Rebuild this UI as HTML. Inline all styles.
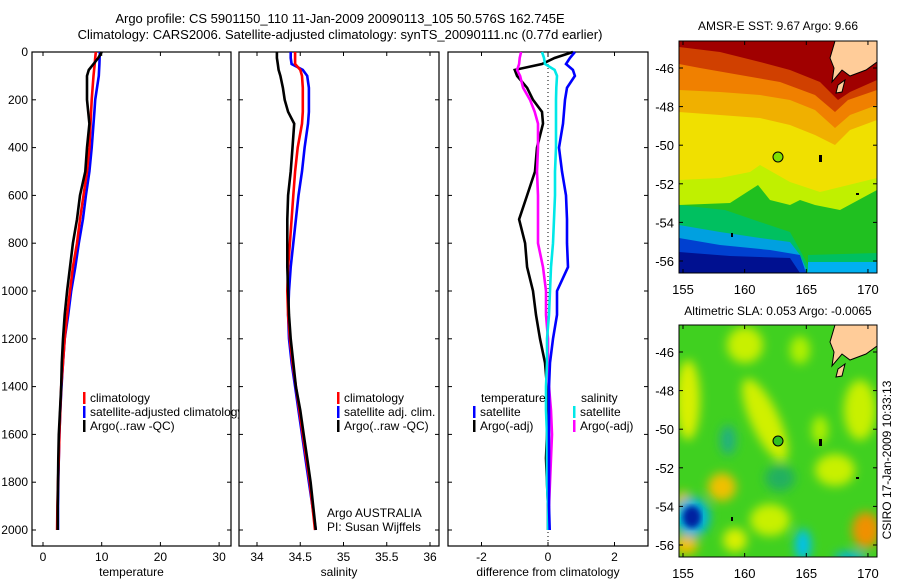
<!DOCTYPE html>
<html><head><meta charset="utf-8"><style>
body{margin:0;background:#fff}
svg{display:block;font-family:"Liberation Sans",sans-serif}
text{fill:#000}
</style></head><body>
<svg id="fig" width="900" height="580" viewBox="0 0 900 580">
<defs>
<clipPath id="c1"><rect x="32" y="52" width="207" height="494"/></clipPath>
<clipPath id="m1"><rect x="679" y="41" width="198" height="232"/></clipPath>
<clipPath id="m2"><rect x="679" y="325" width="198" height="232"/></clipPath>
<filter id="bl" x="-20%" y="-20%" width="140%" height="140%"><feGaussianBlur stdDeviation="5"/></filter>
<filter id="bl2"><feGaussianBlur stdDeviation="3"/></filter>
</defs>
<text x="340" y="23" font-size="13" text-anchor="middle">Argo profile: CS 5901150_110 11-Jan-2009 20090113_105 50.576S 162.745E</text>
<text x="340" y="39" font-size="13" text-anchor="middle">Climatology: CARS2006. Satellite-adjusted climatology: synTS_20090111.nc (0.77d earlier)</text>
<g id="plots"></g>

<!-- SST map -->
<g>
<text x="778" y="30" font-size="12" text-anchor="middle">AMSR-E SST: 9.67 Argo: 9.66</text>
<g clip-path="url(#m1)">
<rect x="679" y="41" width="198" height="232" fill="#f0e000"/>
<polygon fill="#f0b000" points="679,41 877,41 877,120 850,130 835,145 815,135 790,125 760,118 720,115 679,112"/>
<polygon fill="#f08000" points="679,41 877,41 877,105 850,115 835,128 815,110 790,100 760,95 720,92 679,90"/>
<polygon fill="#d04000" points="679,41 877,41 877,90 848,100 835,112 815,95 780,82 740,75 700,68 679,64"/>
<polygon fill="#a00000" points="679,41 877,41 877,80 850,92 838,100 820,82 790,70 760,62 720,52 679,47"/>
<polygon fill="#c0f000" points="679,180 720,178 750,172 760,165 790,182 820,192 877,178 877,273 679,273"/>
<polygon fill="#20c020" points="679,205 730,203 758,185 770,200 790,205 800,200 815,205 840,210 877,190 877,273 679,273"/>
<polygon fill="#00c060" points="679,205 725,210 760,222 790,232 800,250 812,273 679,273"/>
<polygon fill="#00a0e0" points="679,225 720,232 760,238 790,242 800,255 808,273 679,273"/>
<polygon fill="#0040d0" points="679,238 720,245 770,250 800,255 806,273 679,273"/>
<polygon fill="#001090" points="679,252 730,256 790,258 800,273 679,273"/>
<polygon fill="#00b0f0" points="808,262 877,262 877,273 808,273"/>
<polygon fill="#00c060" points="808,255 877,253 877,262 808,262"/>
<polygon fill="#ffcc99" stroke="#000" stroke-width="1" points="835,41 877,41 877,62 866,70 850,76 842,70 832,82 834,68 830,58"/>
<polygon fill="#ffcc99" stroke="#000" stroke-width="1" points="838,85 845,80 842,92 836,93"/>
</g>
<circle cx="778" cy="157" r="5" fill="#80e000" stroke="#000"/>
<rect x="819" y="155" width="3" height="7" fill="#000"/>
<rect x="856" y="193" width="3" height="2" fill="#000"/>
<rect x="731" y="233" width="2" height="4" fill="#000"/>
<rect x="679" y="41" width="198" height="232" fill="none" stroke="#000"/>
</g>

<!-- SLA map -->
<g>
<text x="778" y="315" font-size="12" text-anchor="middle">Altimetric SLA: 0.053 Argo: -0.0065</text>
<g clip-path="url(#m2)">
<rect x="679" y="325" width="198" height="232" fill="#40d020"/>
<g filter="url(#bl)">
<ellipse cx="688" cy="400" rx="12" ry="40" fill="#d8f000"/>
<ellipse cx="765" cy="420" rx="14" ry="45" fill="#d0f000" transform="rotate(-25 765 420)"/>
<ellipse cx="745" cy="345" rx="18" ry="18" fill="#c8f000"/>
<ellipse cx="800" cy="350" rx="10" ry="14" fill="#b0f000"/>
<ellipse cx="860" cy="410" rx="16" ry="30" fill="#c8f000"/>
<ellipse cx="835" cy="470" rx="20" ry="16" fill="#c8f000"/>
<ellipse cx="820" cy="430" rx="8" ry="14" fill="#b0f000"/>
<ellipse cx="722" cy="487" rx="14" ry="14" fill="#f0c000"/>
<ellipse cx="686" cy="545" rx="12" ry="10" fill="#f0c000"/>
<ellipse cx="770" cy="520" rx="20" ry="16" fill="#c8f000"/>
<ellipse cx="735" cy="540" rx="12" ry="12" fill="#d8f000"/>
<ellipse cx="866" cy="530" rx="14" ry="18" fill="#f09000"/>
<ellipse cx="683" cy="505" rx="8" ry="14" fill="#f0c000"/>
<ellipse cx="728" cy="440" rx="8" ry="15" fill="#20b080"/>
<ellipse cx="780" cy="478" rx="15" ry="13" fill="#20b060"/>
<ellipse cx="692" cy="517" rx="18" ry="20" fill="#00b0e0"/>
<ellipse cx="803" cy="545" rx="8" ry="16" fill="#00c0f0"/>
<ellipse cx="850" cy="557" rx="16" ry="5" fill="#00b0f0"/>
</g>
<ellipse cx="692" cy="517" rx="9" ry="11" fill="#0020a0" filter="url(#bl2)"/>
<polygon fill="#ffcc99" stroke="#000" stroke-width="1" points="835,325 877,325 877,346 866,354 850,360 842,354 832,366 834,352 830,342"/>
<polygon fill="#ffcc99" stroke="#000" stroke-width="1" points="838,369 845,364 842,376 836,377"/>
</g>
<circle cx="778" cy="441" r="5" fill="#30c020" stroke="#000"/>
<rect x="819" y="439" width="3" height="7" fill="#000"/>
<rect x="856" y="477" width="3" height="2" fill="#000"/>
<rect x="731" y="517" width="2" height="4" fill="#000"/>
<rect x="679" y="325" width="198" height="232" fill="none" stroke="#000"/>
</g>
<text transform="translate(891,460) rotate(-90)" font-size="12" text-anchor="middle">CSIRO 17-Jan-2009 10:33:13</text>
<g id="maps-ticks"></g>
</svg>
<script>
const NS="http://www.w3.org/2000/svg";
const depths=[0,25,50,75,100,150,200,250,300,400,500,600,700,800,900,1000,1100,1200,1300,1400,1500,1600,1700,1800,1900,2000];
const tempArgo=[10.0,9.4,8.6,7.8,7.5,7.5,7.5,7.7,7.9,7.5,7.2,6.3,5.8,5.1,4.6,4.1,3.7,3.4,3.2,3.1,2.9,2.7,2.6,2.55,2.5,2.5];
const tempClim=[9.0,8.9,8.8,8.7,8.6,8.45,8.3,8.2,8.1,7.9,7.5,6.9,6.3,5.8,5.1,4.6,4.1,3.7,3.4,3.1,2.95,2.8,2.7,2.55,2.45,2.4];
const tempSat=[9.7,9.65,9.6,9.55,9.5,9.2,8.9,8.75,8.6,8.3,7.9,7.3,6.8,6.1,5.5,4.8,4.3,3.7,3.4,3.15,2.95,2.8,2.7,2.6,2.55,2.55];
const salArgo=[34.23,34.23,34.24,34.25,34.27,34.3,34.32,34.36,34.43,34.41,34.39,34.36,34.35,34.35,34.35,34.36,34.37,34.39,34.42,34.45,34.5,34.54,34.58,34.62,34.65,34.68];
const salClim=[34.44,34.44,34.44,34.5,34.52,34.53,34.53,34.53,34.52,34.47,34.44,34.42,34.40,34.38,34.36,34.35,34.36,34.38,34.41,34.45,34.49,34.53,34.57,34.61,34.64,34.67];
const salSat=[34.39,34.39,34.40,34.53,34.58,34.6,34.6,34.6,34.59,34.55,34.52,34.48,34.45,34.42,34.39,34.37,34.36,34.37,34.4,34.44,34.48,34.52,34.56,34.6,34.64,34.68];
const dTempSat=[0.81,0.66,0.54,0.75,0.81,0.57,0.51,0.48,0.45,0.33,0.42,0.54,0.57,0.57,0.6,0.27,0.27,0.15,0.06,0.03,0.03,0.03,0.03,0.03,0.03,0.05];
const dTempArgo=[0.75,0.2,-0.18,-1.0,-0.93,-0.63,-0.45,-0.18,-0.15,-0.33,-0.39,-0.63,-0.87,-0.69,-0.63,-0.45,-0.36,-0.24,-0.09,-0.03,-0.03,-0.03,-0.06,-0.03,0.0,0.0];
const dSalSat=[-0.18,-0.12,-0.09,0.2,0.27,0.25,0.24,0.24,0.24,0.24,0.21,0.21,0.18,0.15,0.09,0.06,0.03,-0.03,-0.03,-0.06,-0.06,-0.03,-0.03,-0.03,0.0,0.0];
const dSalArgo=[-0.81,-0.85,-0.87,-0.93,-0.84,-0.75,-0.54,-0.4,-0.3,-0.3,-0.33,-0.3,-0.3,-0.3,-0.15,-0.06,-0.06,0.0,0.0,0.03,0.09,0.12,0.09,0.06,0.03,0.03];
const depthTicks=[0,200,400,600,800,1000,1200,1400,1600,1800,2000];
const tempTicks=[0,10,20,30];
const salTicks=[34,34.5,35,35.5,36];
const diffTicks=[-2,0,2];
const latTicks=[-46,-48,-50,-52,-54,-56];
const lonTicks=[155,160,165,170];

const yD=d=>52+d*0.239;
const g=document.getElementById('plots');
function el(tag,attrs,parent){const e=document.createElementNS(NS,tag);for(const k in attrs)e.setAttribute(k,attrs[k]);(parent||g).appendChild(e);return e;}
function txt(x,y,s,anchor,parent,size){const t=el('text',{x:x,y:y,'font-size':size||12,'text-anchor':anchor||'start'},parent);t.textContent=s;return t;}

const panels=[
 {x0:32,x1:231,sx:v=>43+v*5.87,ticks:tempTicks,label:'temperature',name:'temperature-panel'},
 {x0:239,x1:439,sx:v=>257+(v-34)*86.5,ticks:salTicks,label:'salinity',name:'salinity-panel'},
 {x0:448,x1:648,sx:v=>548+v*33.25,ticks:diffTicks,label:'difference from climatology',name:'difference-panel'}
];
panels.forEach((p,i)=>{
 const pg=el('g',{});
 
 
 el('rect',{x:p.x0,y:52,width:p.x1-p.x0,height:494,fill:'#fff',stroke:'#000','stroke-width':1.2},pg);
 p.ticks.forEach(t=>{const x=p.sx(t);
  el('line',{x1:x,x2:x,y1:52,y2:56,stroke:'#000'},pg);
  el('line',{x1:x,x2:x,y1:546,y2:542,stroke:'#000'},pg);
  const tl=txt(x,561,String(t),'middle',pg);
  
  
 });
 depthTicks.forEach(d=>{const y=yD(d);
  el('line',{x1:p.x0,x2:p.x0+4,y1:y,y2:y,stroke:'#000'},pg);
  el('line',{x1:p.x1,x2:p.x1-4,y1:y,y2:y,stroke:'#000'},pg);
  if(i===0){const tl=txt(28,y+4,String(d),'end',pg);
   
   }
 });
 const al=txt((p.x0+p.x1)/2,576,p.label,'middle',pg);
 
 
 p.g=pg;
});
function line(p,vals,color,name){
 const pts=vals.map((v,k)=>p.sx(v).toFixed(1)+','+yD(depths[k]).toFixed(1)).join(' ');
 const l=el('polyline',{points:pts,fill:'none',stroke:color,'stroke-width':2.6,'stroke-linejoin':'miter'},p.g);
 
 
}
line(panels[0],tempSat,'#0000ff','temp-satellite-line');
line(panels[0],tempClim,'#ff0000','temp-climatology-line');
line(panels[0],tempArgo,'#000','temp-argo-line');
line(panels[1],salSat,'#0000ff','sal-satellite-line');
line(panels[1],salClim,'#ff0000','sal-climatology-line');
line(panels[1],salArgo,'#000','sal-argo-line');
const zl=el('line',{x1:548,x2:548,y1:52,y2:546,stroke:'#000','stroke-dasharray':'1,3'},panels[2].g);


line(panels[2],dTempArgo,'#000','diff-temp-argo-line');
line(panels[2],dSalArgo,'#ff00ff','diff-sal-argo-line');
line(panels[2],dSalSat,'#00e8e8','diff-sal-satellite-line');
line(panels[2],dTempSat,'#0000ff','diff-temp-satellite-line');

function legend(parent,x,y,color,label){
 const lg=el('g',{},parent);
 
 
 el('rect',{x:x,y:y-10,width:2.5,height:12,fill:color},lg);
 txt(x+7,y,label,'start',lg);
}
const lp1=el('g',{'clip-path':'url(#c1)'},panels[0].g);
legend(lp1,83,402,'#ff0000','climatology');
legend(lp1,83,416,'#0000ff','satellite-adjusted climatology');
legend(lp1,83,430,'#000','Argo(..raw -QC)');
legend(panels[1].g,337,402,'#ff0000','climatology');
legend(panels[1].g,337,416,'#0000ff','satellite adj. clim.');
legend(panels[1].g,337,430,'#000','Argo(..raw -QC)');
const cr1=txt(327,517,'Argo AUSTRALIA','start',panels[1].g);


const cr2=txt(327,531,'PI: Susan Wijffels','start',panels[1].g);


txt(481,402,'temperature','start',panels[2].g);
legend(panels[2].g,473,416,'#0000ff','satellite');
legend(panels[2].g,473,430,'#000','Argo(-adj)');
txt(581,402,'salinity','start',panels[2].g);
legend(panels[2].g,573,416,'#00e8e8','satellite');
legend(panels[2].g,573,430,'#ff00ff','Argo(-adj)');

const mt=document.getElementById('maps-ticks');
[[41,68],[325,352]].forEach(([top,y46])=>{
 latTicks.forEach(l=>{const y=y46+(-46-l)*19.3;
  el('line',{x1:679,x2:683,y1:y,y2:y,stroke:'#000'},mt);
  el('line',{x1:877,x2:873,y1:y,y2:y,stroke:'#000'},mt);
  const t=txt(674,y+5,String(l),'end',mt,13);
  
  
 });
 lonTicks.forEach(o=>{const x=683+(o-155)*12.33;
  el('line',{x1:x,x2:x,y1:top,y2:top+4,stroke:'#000'},mt);
  el('line',{x1:x,x2:x,y1:top+232,y2:top+228,stroke:'#000'},mt);
  const t=txt(x,top+253,String(o),'middle',mt,13);
  
  
 });
});
</script>
</body></html>
